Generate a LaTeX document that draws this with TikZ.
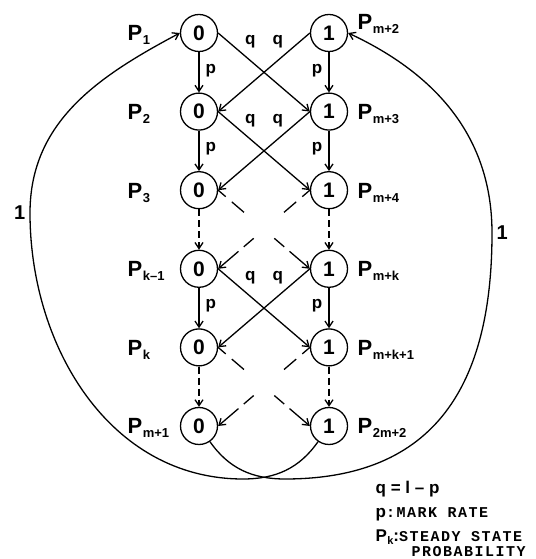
\documentclass[tikz,border=0pt]{standalone}
\usepackage{fontspec}
\usepackage{tikz}
\usetikzlibrary{arrows.meta, positioning, calc}
\newfontfamily\diagfont{Liberation Sans}
\newfontfamily\notefont{Liberation Mono}[LetterSpace=10]
\newcommand{\Pstate}[1]{P\kern.5pt\raisebox{-4pt}{\fontsize{13}{13}\selectfont #1}}

\begin{document}
\begin{tikzpicture}[x=1pt, y=1pt, >={Straight Barb[length=6pt, width=8pt]}, line width=1.3pt,
    state/.style={circle, draw, line width=1.3pt, minimum size=37pt, inner sep=0pt,
        font=\diagfont\bfseries\fontsize{21}{21}\selectfont},
    plabel/.style={font=\diagfont\bfseries\fontsize{22}{22}\selectfont, inner sep=0pt, anchor=base west},
    rate/.style={font=\diagfont\bfseries\fontsize{17}{17}\selectfont, inner sep=1pt},
    note/.style={font=\notefont\bfseries\fontsize{15}{15}\selectfont, inner sep=0pt, anchor=base west},
    crossdash/.style={dash pattern=on 10pt off 8pt on 16pt off 40pt on 13pt off 7pt on 40pt},
    downdash/.style={dash pattern=on 7pt off 4pt}]
    \useasboundingbox (0,0) rectangle (535,559);

    % states
    \foreach \i/\y in {1/526, 2/447.4, 3/368.8, 4/290.2, 5/211.6, 6/133} {
        \node[state] (l\i) at (199,\y) {0};
        \node[state] (r\i) at (329,\y) {1};
    }

    % probabilities
    \foreach \i/\s in {1/1, 2/2, 3/3, 4/k–1, 5/k, 6/m+1}
        \node[plabel] (pl\i) at ([xshift=-72pt, yshift=-8pt]l\i.center) {\Pstate{\s}};
    \node[plabel] (pr1) at ([xshift=28pt, yshift=3pt]r1.center) {\Pstate{m+2}};
    \foreach \i/\s in {2/m+3, 3/m+4, 4/m+k, 5/m+k+1, 6/2m+2}
        \node[plabel] (pr\i) at ([xshift=28pt, yshift=-8pt]r\i.center) {\Pstate{\s}};

    % solid steps
    \foreach \i/\j in {1/2, 2/3, 4/5} {
        \draw[->] (l\i) -- node[rate, right=5pt, pos=0.45] {p} (l\j);
        \draw[->] (r\i) -- node[rate, left=5pt, pos=0.45] {p} (r\j);
        \draw[->] (l\i.east) -- node[rate, pos=0.35, above=10.5pt] {q} (r\j.west);
        \draw[->] (r\i.west) -- node[rate, pos=0.35, above=10.5pt] {q} (l\j.east);
    }
    % dashed steps
    \foreach \i/\j in {3/4, 5/6} {
        \draw[->, downdash] (l\i) -- (l\j);
        \draw[->, downdash] (r\i) -- (r\j);
        \draw[->, crossdash] (l\i.east) -- (r\j.west);
        \draw[->, crossdash] (r\i.west) -- (l\j.east);
    }

    % return arcs
    \coordinate (botL) at (243,80);
    \coordinate (botR) at (285,80);
    \coordinate (loopL) at (30,346);
    \coordinate (loopR) at (492,326);
    \draw[->] (r6.235) to[out=235, in=0] (botL) to[out=180, in=270] (loopL)
        to[out=90, in=208] (l1.west);
    \draw[->] (l6.305) to[out=305, in=180] (botR) to[out=0, in=270, looseness=1.2] (loopR)
        to[out=90, in=-25] (r1.east);
    \node[rate, left=3pt] (oneL) at (loopL) {\fontsize{20}{20}\selectfont 1};
    \node[rate, right=3pt] (oneR) at (loopR) {\fontsize{20}{20}\selectfont 1};

    % legend
    \node[note] (nq) at (375,65) {\diagfont\fontsize{17}{17}\selectfont q = l – p};
    \node[note] (np) at (375,41) {{\diagfont\fontsize{17}{17}\selectfont p}:MARK RATE};
    \node[note] (nk) at (375,17) {{\diagfont\fontsize{17}{17}\selectfont P\kern.3pt\raisebox{-3pt}{\fontsize{11}{11}\selectfont k}:}STEADY STATE};
    \node[note] (nb) at (411,2) {PROBABILITY};
\end{tikzpicture}
\end{document}
